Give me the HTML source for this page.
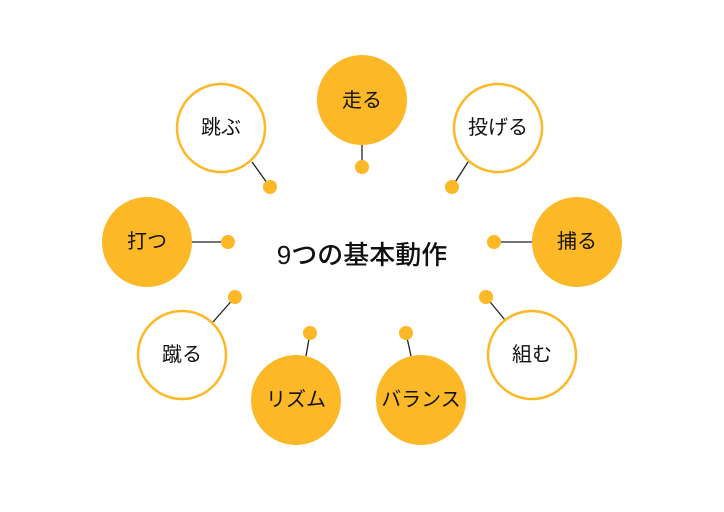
<!DOCTYPE html>
<html><head><meta charset="utf-8"><style>
html,body{margin:0;padding:0;background:#fff;}
svg{display:block}
text{font-family:"Liberation Sans","Noto Sans CJK JP",sans-serif;fill:#111;text-anchor:middle;dominant-baseline:central}
</style></head><body>
<svg width="724" height="512" viewBox="0 0 724 512">
<g stroke="#222" stroke-width="1.3">
<line x1="362" y1="145" x2="362" y2="167"/>
<line x1="252" y1="162" x2="270" y2="187"/>
<line x1="468" y1="162" x2="452" y2="187"/>
<line x1="192" y1="242" x2="228" y2="242"/>
<line x1="532" y1="242" x2="494" y2="242"/>
<line x1="213" y1="322" x2="235" y2="297"/>
<line x1="505" y1="320" x2="486" y2="297"/>
<line x1="306" y1="356" x2="310" y2="333"/>
<line x1="411" y1="356" x2="406" y2="333"/>
</g>
<g fill="#FDB827">
<circle cx="362" cy="167" r="7"/><circle cx="270" cy="187" r="7"/><circle cx="452" cy="187" r="7"/>
<circle cx="228" cy="242" r="7"/><circle cx="494" cy="242" r="7"/><circle cx="235" cy="297" r="7"/>
<circle cx="486" cy="297" r="7"/><circle cx="310" cy="333" r="7"/><circle cx="406" cy="333" r="7"/>
<circle cx="362" cy="100" r="45"/><circle cx="147" cy="242" r="45"/><circle cx="577" cy="242" r="45"/>
<circle cx="296" cy="400" r="45"/><circle cx="421" cy="400" r="45"/>
</g>
<g fill="#fff" stroke="#FDB827" stroke-width="2.5">
<circle cx="221" cy="128" r="44"/><circle cx="498" cy="128" r="44"/>
<circle cx="182" cy="355" r="44"/><circle cx="532" cy="355" r="44"/>
</g>
<g font-size="20">
<text x="362" y="101">走る</text>
<text x="221" y="128">跳ぶ</text>
<text x="498" y="128">投げる</text>
<text x="147" y="242">打つ</text>
<text x="577" y="242">捕る</text>
<text x="182" y="355">蹴る</text>
<text x="532" y="355">組む</text>
<text x="296" y="400">リズム</text>
<text x="421" y="400">バランス</text>
</g>
<text x="362" y="255" font-size="26" font-weight="500">9つの基本動作</text>
</svg>
</body></html>
